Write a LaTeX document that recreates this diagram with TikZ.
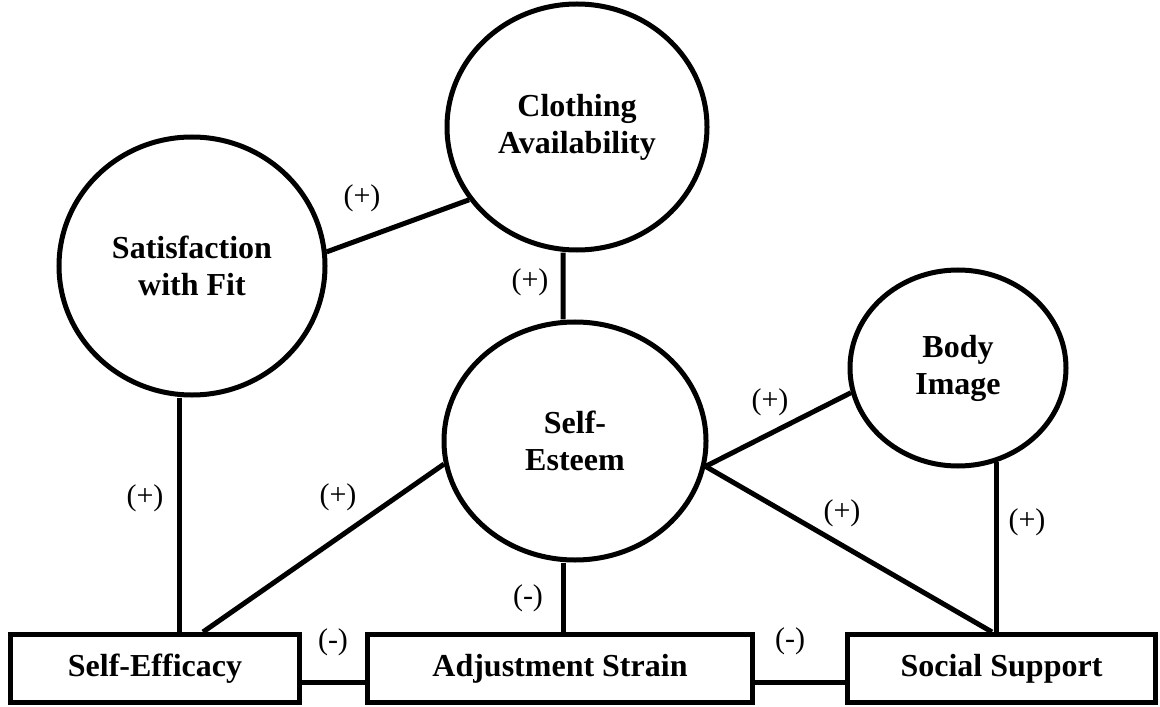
\documentclass[tikz,border=0pt]{standalone}
\usepackage{fontspec}
\setmainfont{Liberation Serif}
\usetikzlibrary{shapes.geometric}
\begin{document}
\begin{tikzpicture}[x=1bp,y=-1bp,
  link/.style={line width=5bp,draw=black},
  construct/.style={ellipse,draw=black,line width=5bp,fill=white,inner sep=0pt,
    align=center,font=\fontsize{32bp}{37bp}\selectfont\bfseries},
  measure/.style={rectangle,draw=black,line width=5bp,fill=white,inner sep=0pt,
    minimum height=68bp,font=\fontsize{32bp}{37bp}\selectfont\bfseries},
  sign/.style={inner sep=0pt,font=\fontsize{30bp}{34bp}\selectfont}]
\useasboundingbox (0,0) rectangle (1160,707);
\fill[white] (0,0) rectangle (1160,707);

% latent constructs
\node[construct,minimum width=260bp,minimum height=246bp] (cloth) at (577,127) {Clothing\\Availability};
\node[construct,minimum width=266bp,minimum height=258bp] (sat) at (192,266) {Satisfaction\\with Fit};
\node[construct,minimum width=262bp,minimum height=238bp] (esteem) at (575,441) {Self-\\Esteem};
\node[construct,minimum width=216bp,minimum height=196bp] (body) at (958,368) {Body\\Image};

% observed outcomes
\node[measure,minimum width=289bp] (eff) at (155,668.5) {Self-Efficacy};
\node[measure,minimum width=385bp] (adj) at (560,668.5) {Adjustment Strain};
\node[measure,minimum width=308bp] (soc) at (1001.5,668.5) {Social Support};

% paths
\draw[link] (sat.6) -- (cloth.214);
\draw[link] ([xshift=-14bp]cloth.south) -- ([xshift=-12bp]esteem.north);
\draw[link] ([xshift=-13bp]sat.south) -- ([xshift=-13bp]sat.south |- eff.north);
\draw[link] (esteem.190) -- ([xshift=48bp]eff.north);
\draw[link] ([xshift=-12bp]esteem.south) -- ([xshift=-12bp]esteem.south |- adj.north);
\draw[link] (esteem.-11) -- (body.193);
\draw[link] (esteem.-11) -- ([xshift=-9.5bp]soc.north);
\draw[link] (body.-68) -- (body.-68 |- soc.north);
\draw[link] ([yshift=-13.5bp]eff.east) -- ([yshift=-13.5bp]adj.west);
\draw[link] ([yshift=-13.5bp]adj.east) -- ([yshift=-13.5bp]soc.west);

% signs
\node[sign] (s1) at (362,198) {(+)};
\node[sign] (s2) at (530,282) {(+)};
\node[sign] (s3) at (145,498) {(+)};
\node[sign] (s4) at (338,497) {(+)};
\node[sign] (s5) at (528,598) {(-)};
\node[sign] (s6) at (333,642) {(-)};
\node[sign] (s7) at (790,641) {(-)};
\node[sign] (s8) at (770,402) {(+)};
\node[sign] (s9) at (842,513) {(+)};
\node[sign] (s10) at (1027,522) {(+)};
\end{tikzpicture}
\end{document}
